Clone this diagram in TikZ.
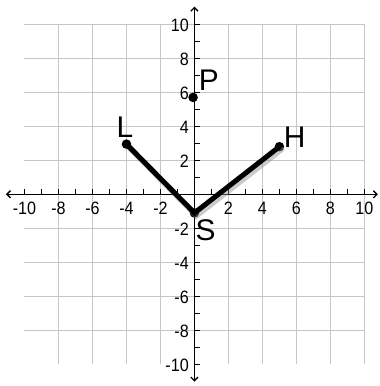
\documentclass[tikz,border=0pt]{standalone}
\usepackage{fontspec}
\setmainfont{Liberation Sans}
\usetikzlibrary{arrows.meta}
\definecolor{gridgray}{RGB}{198,198,198}
\begin{document}
\begin{tikzpicture}[x=0.5cm,y=0.5cm,
  gridline/.style={gridgray, line width=1pt},
  axis/.style={black, line width=1.1pt, {Straight Barb[length=3pt,width=6pt]}-{Straight Barb[length=3pt,width=6pt]}},
  tickmark/.style={black, line width=1pt},
  ticklab/.style={font=\fontsize{15}{16}\selectfont, inner sep=0pt},
  ptlab/.style={font=\fontsize{25}{28}\selectfont, inner sep=0pt},
  dot/.style={circle, fill=black, inner sep=0pt, minimum size=8pt},
  seg/.style={line width=4.2pt, line cap=round},
  shade/.style={black!45, opacity=0.45, line width=5pt, line cap=round}
]
\useasboundingbox (-11.44,-11.28) rectangle (10.91,11.43);
\draw[gridline] (-10,-10) grid (10,10);
\draw[axis] (-11.09,0) -- (10.79,0);
\draw[axis] (0,-11.02) -- (0,11.04);
\foreach \i in {-10,...,10} {
  \draw[tickmark] (\i,0) -- (\i,0.3);
  \draw[tickmark] (0,\i) -- (0.35,\i);
}
\foreach \i in {-10,-8,-6,-4,-2,2,4,6,8,10} {
  \node[ticklab] (xl\i) at (\i,-0.8) {\scalebox{0.9}[1]{\i}};
  \node[ticklab,anchor=east] (yl\i) at (-0.32,\i-0.05) {\scalebox{0.9}[1]{\i}};
}
\node[dot] (L) at (-4,2.95) {};
\node[dot] (S) at (0,-1.1) {};
\node[dot] (H) at (5,2.8) {};
\node[dot] (P) at (-0.08,5.7) {};
\draw[shade] ([shift={(0.12,-0.15)}]L.center) -- ([shift={(0.12,-0.15)}]S.center) -- ([shift={(0.12,-0.15)}]H.center);
\draw[seg] (L.center) -- (S.center) -- (H.center);
\node[ptlab] (Llab) at (-4.09,3.92) {L};
\node[ptlab] (Plab) at (0.84,6.69) {P};
\node[ptlab] (Hlab) at (5.89,3.37) {H};
\node[ptlab] (Slab) at (0.65,-2.13) {S};
\end{tikzpicture}
\end{document}
